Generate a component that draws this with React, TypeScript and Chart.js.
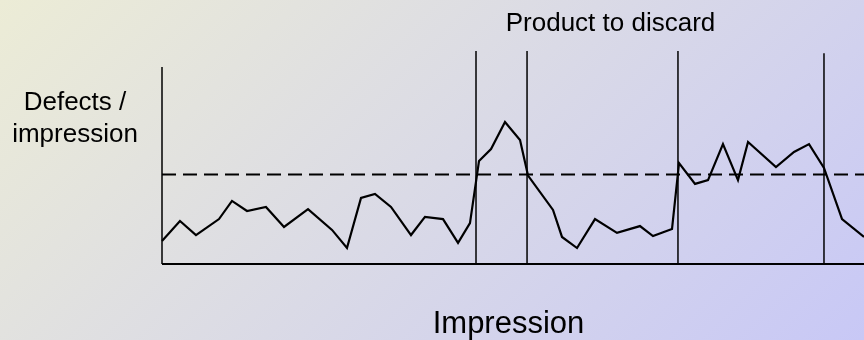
import React, { useEffect, useRef } from "react";
import { Chart, registerables } from "chart.js";

Chart.register(...registerables);

// Impression position (0..100) and defects per impression
const impressions = [
  0, 2.56, 4.84, 8.12, 9.97, 12.11, 14.81, 17.38, 20.8, 24.22, 26.35, 28.35, 30.34,
  32.62, 35.47, 37.46, 40.03, 42.17, 43.87, 45.16, 46.87, 48.86, 51.0, 52.14, 55.7,
  56.98, 59.12, 61.68, 64.81, 68.09, 69.94, 72.65, 73.65, 75.93, 77.78, 79.91, 82.05,
  83.48, 87.46, 90.03, 92.17, 94.3, 96.87, 100,
];
const defects = [
  1.08, 2.02, 1.36, 2.11, 2.96, 2.49, 2.68, 1.74, 2.58, 1.6, 0.75, 3.1, 3.29,
  2.68, 1.36, 2.21, 2.11, 0.99, 1.92, 4.84, 5.4, 6.67, 5.82, 4.15, 2.54,
  1.27, 0.75, 2.11, 1.46, 1.78, 1.31, 1.64, 4.74, 3.76, 3.94, 5.63, 3.94,
  5.73, 4.55, 5.26, 5.63, 4.51, 2.11, 1.27,
];
const limitValue = 4.2;
const discardBounds = [44.73, 52.0, 73.5, 94.3];
const discardTops = [10, 10, 10, 9.9];
const yAxisTop = 9.25;
const xMax = 100;
const yMax = 10;

const titleText = "Product to discard";
const yLabelLines = ["Defects /", "impression"];
const xLabelText = "Impression";

const FONT = "'Liberation Sans', Arial, Helvetica, sans-serif";

export default function App() {
  const ref = useRef<HTMLCanvasElement | null>(null);

  useEffect(() => {
    const canvas = ref.current;
    if (!canvas) return;

    const series = impressions.map((x, i) => ({ x, y: defects[i] }));

    const datasets: any[] = [
      {
        label: "Defects",
        data: series,
        borderColor: "#000",
        borderWidth: 2.2,
        pointRadius: 0,
        tension: 0,
        clip: false,
      },
      {
        label: "Limit",
        data: [
          { x: 0, y: limitValue },
          { x: xMax, y: limitValue },
        ],
        borderColor: "#000",
        borderWidth: 2,
        borderDash: [14, 7],
        pointRadius: 0,
        clip: false,
      },
      {
        label: "X axis",
        data: [
          { x: 0, y: 0 },
          { x: xMax, y: 0 },
        ],
        borderColor: "#000",
        borderWidth: 2.2,
        pointRadius: 0,
        clip: false,
      },
      {
        label: "Y axis",
        data: [
          { x: 0, y: 0 },
          { x: 0, y: yAxisTop },
        ],
        borderColor: "#000",
        borderWidth: 1.5,
        pointRadius: 0,
        clip: false,
      },
      ...discardBounds.map((b, i) => ({
        label: "Bound " + (i + 1),
        data: [
          { x: b, y: 0 },
          { x: b, y: discardTops[i] },
        ],
        borderColor: "#000",
        borderWidth: 1.5,
        pointRadius: 0,
        clip: false,
      })),
    ];

    const bgPlugin = {
      id: "bg",
      beforeDraw(chart: any) {
        const ctx = chart.ctx as CanvasRenderingContext2D;
        const w = chart.width;
        const h = chart.height;
        const d = (w + h) / 2;
        const g = ctx.createLinearGradient(0, 0, d, d);
        g.addColorStop(0, "#ececd6");
        g.addColorStop(1, "#c8c8f6");
        ctx.save();
        ctx.fillStyle = g;
        ctx.fillRect(0, 0, w, h);
        ctx.restore();
      },
    };

    const textPlugin = {
      id: "texts",
      afterDraw(chart: any) {
        const ctx = chart.ctx as CanvasRenderingContext2D;
        ctx.save();
        ctx.fillStyle = "#000";
        ctx.textAlign = "center";
        ctx.textBaseline = "alphabetic";
        ctx.font = `26px ${FONT}`;
        ctx.fillText(titleText, 610.5, 31);
        ctx.fillText(yLabelLines[0], 75, 110);
        ctx.fillText(yLabelLines[1], 75, 142);
        ctx.font = `31px ${FONT}`;
        ctx.fillText(xLabelText, 508.5, 333);
        ctx.restore();
      },
    };

    const chart = new Chart(canvas, {
      type: "line",
      data: { datasets },
      options: {
        animation: false,
        responsive: false,
        maintainAspectRatio: false,
        layout: { padding: { left: 162, right: 0, top: 51, bottom: 76 } },
        scales: {
          x: { type: "linear", min: 0, max: xMax, display: false },
          y: { type: "linear", min: 0, max: yMax, display: false },
        },
        plugins: {
          legend: { display: false },
          tooltip: { enabled: false },
        },
        elements: { line: { borderJoinStyle: "miter" } },
      },
      plugins: [bgPlugin, textPlugin],
    });

    return () => chart.destroy();
  }, []);

  return (
    <div style={{ position: "fixed", left: 0, top: 0, width: 864, height: 340 }}>
      <canvas ref={ref} width={864} height={340} style={{ display: "block" }} />
    </div>
  );
}
